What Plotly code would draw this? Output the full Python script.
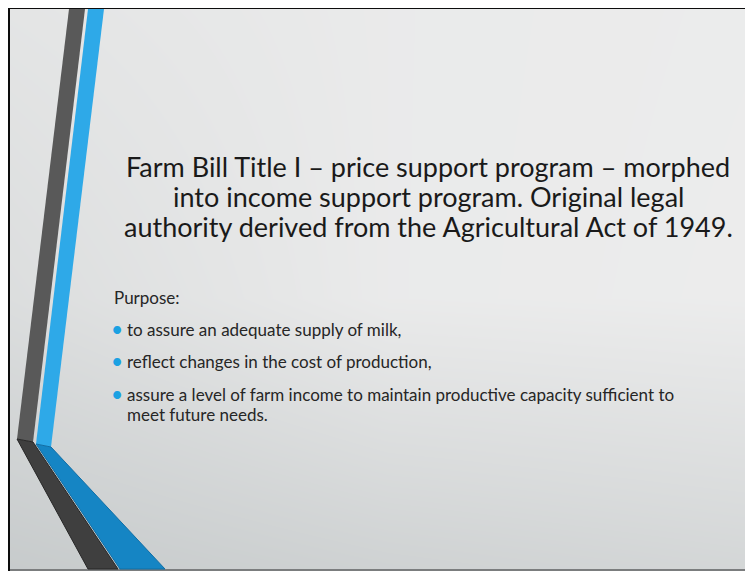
import plotly.graph_objects as go

W, H = 753, 571

# ---- content ----
title_lines = [
    "Farm Bill Title I – price support program – morphed",
    "into income support program. Original legal",
    "authority derived from the Agricultural Act of 1949.",
]
purpose_label = "Purpose:"
bullet_lines = [
    ["to assure an adequate supply of milk,"],
    ["reflect changes in the cost of production,"],
    ["assure a level of farm income to maintain productive capacity sufficient to",
     "meet future needs."],
]

# background brightness grid (decorative gradient)
bg_x = [0, 380, 753]
bg_y = [0, 290, 571]
bg_z = [[0.78, 0.90, 0.93],
        [0.62, 0.90, 0.94],
        [0.20, 0.35, 0.45]]

fig = go.Figure()
fig.add_trace(go.Heatmap(
    x=bg_x, y=bg_y, z=bg_z, zsmooth="best", showscale=False, hoverinfo="skip",
    zmin=0, zmax=1,
    colorscale=[[0, "#bcc1c2"], [1, "#efefef"]],
))

shapes = []
# slide border
shapes.append(dict(type="rect", x0=-5, x1=2, y0=-5, y1=H + 5, fillcolor="#0d0d0d", line_width=0, layer="above"))
shapes.append(dict(type="rect", x0=-5, x1=W + 5, y0=-5, y1=1, fillcolor="#0d0d0d", line_width=0, layer="above"))
shapes.append(dict(type="rect", x0=2, x1=W + 5, y0=561, y1=H + 5, fillcolor="#7b7d7e", line_width=0, layer="above"))

# decorative stripes
shapes.append(dict(type="path", path="M 61 1 L 77 1 L 25 434 L 9 431 Z",
                   fillcolor="#595959", line_width=0, layer="above"))
shapes.append(dict(type="path", path="M 80 1 L 96 1 L 43 439 L 28 436 Z",
                   fillcolor="#2ea9e8", line_width=0, layer="above"))
shapes.append(dict(type="path", path="M 9 431 L 25 434 L 110 561 L 80 561 Z",
                   fillcolor="#3f3f3f", line=dict(color="#262626", width=1), layer="above"))
shapes.append(dict(type="path", path="M 28 436 L 43 439 L 157 561 L 112 561 Z",
                   fillcolor="#1585c4", line=dict(color="#0f6ea6", width=1), layer="above"))

annotations = []
title_y = [158, 188, 218]
for line, y in zip(title_lines, title_y):
    annotations.append(dict(x=420, y=y, xref="x", yref="y", text=line, showarrow=False,
                            xanchor="center", yanchor="middle",
                            font=dict(family="Lato", size=27, color="#1a1a1a")))

annotations.append(dict(x=104, y=289, xref="x", yref="y", text=purpose_label, showarrow=False,
                        xanchor="left", yanchor="middle",
                        font=dict(family="Lato", size=17, color="#262626")))

bullet_y = [321, 353, 386]
for lines, y in zip(bullet_lines, bullet_y):
    annotations.append(dict(x=101, y=y - 1, xref="x", yref="y", text="•", showarrow=False,
                            xanchor="left", yanchor="middle",
                            font=dict(family="Lato", size=21, color="#1ba1e2")))
    for i, t in enumerate(lines):
        annotations.append(dict(x=117, y=y + i * 20, xref="x", yref="y", text=t, showarrow=False,
                                xanchor="left", yanchor="middle",
                                font=dict(family="Lato", size=17, color="#262626")))

fig.update_layout(
    width=W, height=H,
    margin=dict(l=0, r=0, t=0, b=0),
    paper_bgcolor="white", plot_bgcolor="white",
    xaxis=dict(range=[0, W], visible=False, fixedrange=True),
    yaxis=dict(range=[H, 0], visible=False, fixedrange=True),
    shapes=shapes, annotations=annotations,
    showlegend=False,
)
fig.write_html("out.html")
